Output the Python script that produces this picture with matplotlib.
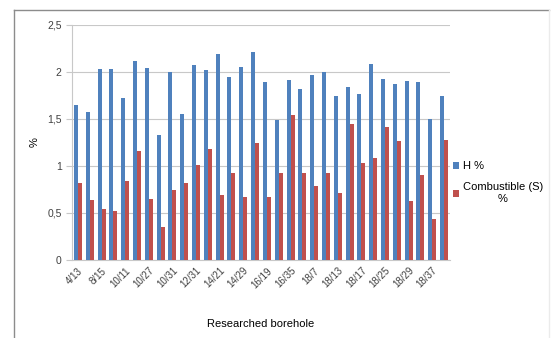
import numpy as np
import matplotlib
matplotlib.use('Agg')
import matplotlib.pyplot as plt
from matplotlib.lines import Line2D
from matplotlib.ticker import FuncFormatter

plt.rcParams['font.family'] = ['Liberation Sans', 'DejaVu Sans']

# values, 32 boreholes
h_pct = [1.65, 1.57, 2.03, 2.03, 1.72, 2.12, 2.04, 1.33, 2.00, 1.55, 2.07, 2.02,
         2.19, 1.95, 2.05, 2.21, 1.89, 1.49, 1.91, 1.82, 1.97, 2.00, 1.74, 1.84,
         1.77, 2.08, 1.93, 1.87, 1.90, 1.89, 1.50, 1.75]
s_pct = [0.82, 0.64, 0.54, 0.52, 0.84, 1.16, 0.65, 0.35, 0.75, 0.82, 1.01, 1.18,
         0.69, 0.93, 0.67, 1.24, 0.67, 0.93, 1.54, 0.93, 0.79, 0.93, 0.71, 1.45,
         1.03, 1.09, 1.42, 1.27, 0.63, 0.90, 0.44, 1.28]
# only every other borehole is labelled on the axis
tick_labels = ['4/13', '8/15', '10/11', '10/27', '10/31', '12/31', '14/21', '14/29',
               '16/19', '16/35', '18/7', '18/13', '18/17', '18/25', '18/29', '18/37']
series_names = ['H %', 'Combustible (S)\n%']

blue = '#4F81BD'
red = '#C0504D'

fig = plt.figure(figsize=(5.51, 3.38), dpi=100)
# outer chart frame (top/left darker, right very faint)
W, H = 551, 338
fig.lines.append(Line2D([14/W, 14/W], [0, 1 - 10/H], transform=fig.transFigure,
                        color='#8c8c8c', lw=1.0))
fig.lines.append(Line2D([14/W, 549/W], [1 - 10/H, 1 - 10/H], transform=fig.transFigure,
                        color='#8c8c8c', lw=1.0))
fig.lines.append(Line2D([549/W, 549/W], [0, 1 - 10/H], transform=fig.transFigure,
                        color='#ebebeb', lw=1.0))

ax = fig.add_axes([72/W, 1 - 260/H, 378/W, 235/H])

x = np.arange(len(h_pct))
w = 0.34
ax.bar(x - w/2, h_pct, w, color=blue, label=series_names[0], zorder=3)
ax.bar(x + w/2, s_pct, w, color=red, label=series_names[1], zorder=3)

ax.set_xlim(-0.5, len(h_pct) - 0.5)
ax.set_ylim(0, 2.5)
ax.set_yticks(np.arange(0, 2.51, 0.5))
ax.yaxis.set_major_formatter(FuncFormatter(lambda v, p: f'{v:g}'.replace('.', ',')))
ax.grid(axis='y', color='#c8c8c8', linewidth=0.8, zorder=0)

ax.set_xticks(x[::2])
ax.set_xticklabels(tick_labels, rotation=45, ha='right', rotation_mode='anchor',
                   fontsize=7, color='#404040')
ax.tick_params(axis='x', length=0, pad=4)
ax.tick_params(axis='y', labelsize=7.5, colors='#404040', length=4, color='#c8c8c8')

for s in ['top', 'right']:
    ax.spines[s].set_visible(False)
ax.spines['left'].set_color('#c8c8c8')
ax.spines['bottom'].set_color('#c8c8c8')

ax.set_xlabel('Researched borehole', fontsize=8)
ax.xaxis.set_label_coords(0.5, -0.25)
ax.set_ylabel('%', fontsize=8)
ax.yaxis.set_label_coords(-0.085, 0.5)

leg = ax.legend(loc='center left', bbox_to_anchor=(0.995, 0.33), frameon=False,
                fontsize=8, handlelength=0.6, handleheight=0.6, handletextpad=0.3,
                labelspacing=1.0, borderaxespad=0)
for t in leg.get_texts():
    t.set_multialignment('center')

fig.savefig('out.png', dpi=100)
